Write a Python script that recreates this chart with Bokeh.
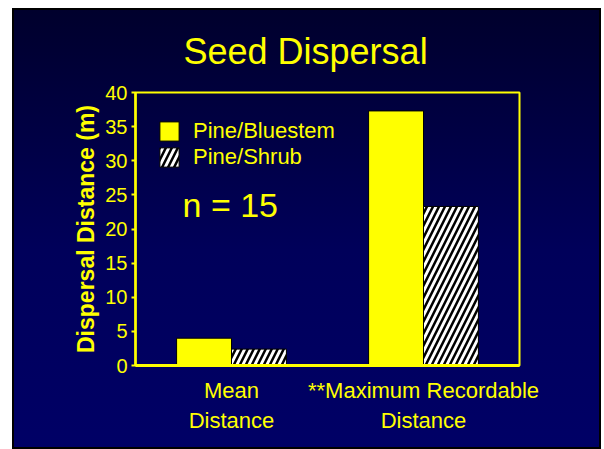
from bokeh.plotting import figure
from bokeh.models import FactorRange, Range1d, Legend, LegendItem, Label, ColumnDataSource
from bokeh.transform import dodge
from bokeh.embed import file_html
from bokeh.resources import INLINE

# ---- data ----
categories = ["Mean\nDistance", "**Maximum Recordable\nDistance"]
series_names = ["Pine/Bluestem", "Pine/Shrub"]
pine_bluestem = [4.0, 37.3]
pine_shrub = [2.4, 23.3]
y_ticks = [0, 5, 10, 15, 20, 25, 30, 35, 40]
title_text = "Seed Dispersal"
y_label = "Dispersal Distance (m)"
sample_note = "n = 15"

FONT = "Liberation Sans"
YEL = "#ffff00"

src = ColumnDataSource(dict(cat=categories, bluestem=pine_bluestem, shrub=pine_shrub))

p = figure(
    x_range=FactorRange(factors=categories),
    y_range=Range1d(0, 40),
    width=589, height=441,
    output_backend="svg", toolbar_location=None,
    min_border_left=123, min_border_right=82,
    min_border_top=84, min_border_bottom=84,
    border_fill_color=None, background_fill_color=None,
    outline_line_color=YEL, outline_line_width=2,
    styles={
        "background": "linear-gradient(to bottom, #00002c 0%, #00005a 55%, #000066 100%)",
        "outline": "2px solid black",
        "outline-offset": "-2px",
        "margin-left": "12px",
        "margin-top": "8px",
    },
)

p.xgrid.visible = False
p.ygrid.visible = False

r1 = p.vbar(x=dodge("cat", -0.143, range=p.x_range), top="bluestem", width=0.286,
            source=src, fill_color=YEL, line_color="black", line_width=1)
r2 = p.vbar(x=dodge("cat", 0.143, range=p.x_range), top="shrub", width=0.286,
            source=src, fill_color="white", line_color="black", line_width=1,
            hatch_pattern="/", hatch_color="black", hatch_scale=12, hatch_weight=2.5)

# title
p.title.text = title_text
p.title.align = "left"
p.title.offset = 48
p.title.text_font = FONT
p.title.text_font_size = "36px"
p.title.text_font_style = "normal"
p.title.text_color = YEL
p.title.standoff = 41

# y axis
ya = p.yaxis[0]
ya.ticker = y_ticks
ya.axis_label = y_label
ya.axis_label_text_font = FONT
ya.axis_label_text_font_size = "23px"
ya.axis_label_text_font_style = "bold"
ya.axis_label_text_color = YEL
ya.axis_label_standoff = 3
ya.major_label_text_font = FONT
ya.major_label_text_font_size = "20px"
ya.major_label_text_color = YEL
ya.major_label_standoff = 4
ya.major_tick_out = 4
ya.major_tick_in = 0
ya.major_tick_line_color = YEL
ya.major_tick_line_width = 2
ya.minor_tick_line_color = None
ya.axis_line_color = YEL
ya.axis_line_width = 2.5

# x axis
xa = p.xaxis[0]
xa.major_label_text_font = FONT
xa.major_label_text_font_size = "22px"
xa.major_label_text_color = YEL
xa.major_label_standoff = 6
xa.major_tick_line_color = None
xa.axis_line_color = YEL
xa.axis_line_width = 3

# legend
legend = Legend(
    items=[LegendItem(label=series_names[0], renderers=[r1]),
           LegendItem(label=series_names[1], renderers=[r2])],
    location=(22, 195),
    border_line_color=None, background_fill_alpha=0,
    label_text_font=FONT, label_text_font_size="22px", label_text_color=YEL,
    glyph_width=24, glyph_height=24, label_standoff=12,
    label_height=22, spacing=0, padding=0, margin=0,
)
p.add_layout(legend)

note = Label(x=0.245, y=23.5, text=sample_note, text_font=FONT, text_font_size="34px",
             text_color=YEL, text_baseline="alphabetic")
p.add_layout(note)

open("out.html", "w").write(file_html(p, INLINE))
